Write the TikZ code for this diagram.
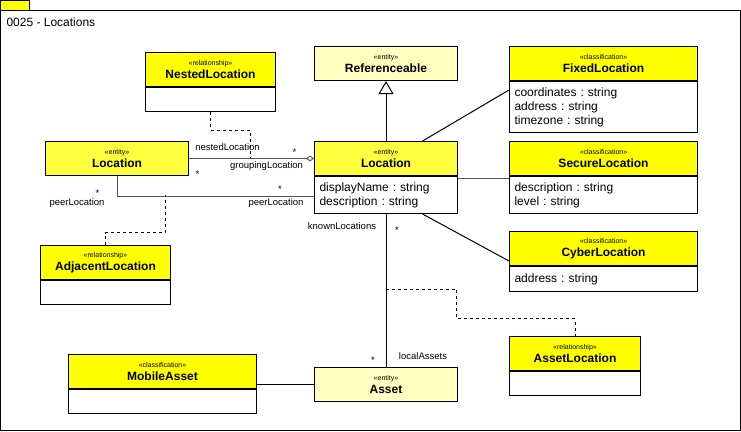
\documentclass[tikz,border=0pt]{standalone}
\usepackage{fontspec}
\setmainfont{Liberation Sans}
\usetikzlibrary{arrows.meta,positioning}
\definecolor{jaune}{HTML}{FFFF00}
\definecolor{jauneloc}{HTML}{FFFF40}
\definecolor{jaunepale}{HTML}{FFFFC0}
\definecolor{gris}{HTML}{555555}
\newcommand{\classe}[2]{{\fontsize{7}{8}\selectfont «#1»}\\[-1pt]\textbf{#2}}
\frenchspacing

\begin{document}
\begin{tikzpicture}[x=1pt,y=-1pt,line width=1pt]
  %% UN DIAGRAMME UML

  \tikzstyle{every node}=[font=\fontsize{12}{14}\selectfont]
  \tikzstyle{tete}=[draw,fill=jaune,anchor=north west,align=center,inner sep=0pt,minimum height=34pt]
  \tikzstyle{corps}=[draw,fill=white,anchor=north west,align=left,inner xsep=5pt,inner ysep=0pt]
  \tikzstyle{role}=[font=\fontsize{9.5}{10}\selectfont,inner sep=0pt]
  \tikzstyle{lien}=[draw,dashed,line width=0.9pt]
  \useasboundingbox (0,0) rectangle (741,431);

  % cadre
  \draw[fill=jaune] (0.5,0.5) rectangle (29,10);
  \draw (0.5,10) rectangle (740,430.5);
  \node[anchor=west,inner sep=0pt] (titre) at (6,22) {0025 - Locations};

  % classes du haut
  \node[tete,minimum width=130pt] (nested) at (145,52) {\classe{relationship}{NestedLocation}};
  \node[corps,text width=120pt,minimum height=24pt] (nestedB) at (nested.south west) {};
  \node[tete,fill=jaunepale,minimum width=143pt] (ref) at (314,46) {\classe{entity}{Referenceable}};
  \node[tete,minimum width=188pt] (fixed) at (509,46) {\classe{classification}{FixedLocation}};
  \node[corps,text width=178pt,minimum height=51pt] (fixedB) at (fixed.south west)
  {coordinates : string\\address : string\\timezone : string};

  % Location
  \node[tete,fill=jauneloc,minimum width=143pt] (locA) at (45,141) {\classe{entity}{Location}};
  \node[tete,fill=jauneloc,minimum width=143pt] (loc) at (314,141) {\classe{entity}{Location}};
  \node[corps,text width=133pt,minimum height=37pt] (locB) at (loc.south west)
  {displayName : string\\description : string};
  \node[tete,minimum width=188pt] (secure) at (509,141) {\classe{classification}{SecureLocation}};
  \node[corps,text width=178pt,minimum height=37pt] (secureB) at (secure.south west)
  {description : string\\level : string};
  \node[tete,minimum width=188pt] (cyber) at (509,231) {\classe{classification}{CyberLocation}};
  \node[corps,text width=178pt,minimum height=25pt] (cyberB) at (cyber.south west)
  {address : string};

  % classes du bas
  \node[tete,minimum width=130pt] (adj) at (40,245) {\classe{relationship}{AdjacentLocation}};
  \node[corps,text width=120pt,minimum height=24pt] (adjB) at (adj.south west) {};
  \node[tete,minimum width=131pt] (assetLoc) at (509,336) {\classe{relationship}{AssetLocation}};
  \node[corps,text width=121pt,minimum height=24pt] (assetLocB) at (assetLoc.south west) {};
  \node[tete,minimum width=188pt] (mobile) at (68,354) {\classe{classification}{MobileAsset}};
  \node[corps,text width=178pt,minimum height=24pt] (mobileB) at (mobile.south west) {};
  \node[tete,fill=jaunepale,minimum width=143pt] (asset) at (314,367) {\classe{entity}{Asset}};

  % liens
  \draw[-{Triangle[open,length=13pt,width=15pt]}] (loc.north) -- (ref.south);
  \draw ([xshift=36.5pt]loc.north) -- ([yshift=-9pt]fixedB.north west);
  \draw[gris] ([yshift=-2pt]locB.north east) -- ([yshift=-2pt]secureB.north west);
  \draw ([xshift=36.5pt]locB.south) -- ([yshift=5pt]cyber.south west);
  \draw[gris,-{Diamond[open,length=8pt,width=6pt]}] (locA.east) -- (loc.west);
  \draw[gris] (locA.south) |- ([yshift=-1.5pt]locB.west);
  \draw (locB.south) -- (asset.north);
  \draw (asset.west) -- (asset.west -| mobile.east);

  % classes d'association
  \coordinate (pN) at (250,158);
  \coordinate (pA) at (165,195);
  \coordinate (pK) at (385.5,289);
  \path[lien] (nestedB.south) -- ++(0,18) -| (pN);
  \path[lien] (adj.north) -- ++(0,-12.5) -| (pA);
  \path[lien] (pK) -| ++(71,29.5) -| (assetLoc.north);

  % roles
  \node[role] (rNested) at (227.5,147) {nestedLocation};
  \node[role] (mNested) at (294.5,152.5) {*};
  \node[role] (rGroup) at (266.5,166) {groupingLocation};
  \node[role] (mGroup) at (197.5,174) {*};
  \node[role] (mPeerA) at (97.5,193) {*};
  \node[role] (rPeerA) at (77,203.5) {peerLocation};
  \node[role] (mPeerB) at (280,189) {*};
  \node[role] (rPeerB) at (276,203.5) {peerLocation};
  \node[role] (rKnown) at (342,226) {knownLocations};
  \node[role] (mKnown) at (397,230) {*};
  \node[role] (mLocal) at (373,360) {*};
  \node[role] (rLocal) at (423,356) {localAssets};
\end{tikzpicture}
\end{document}
